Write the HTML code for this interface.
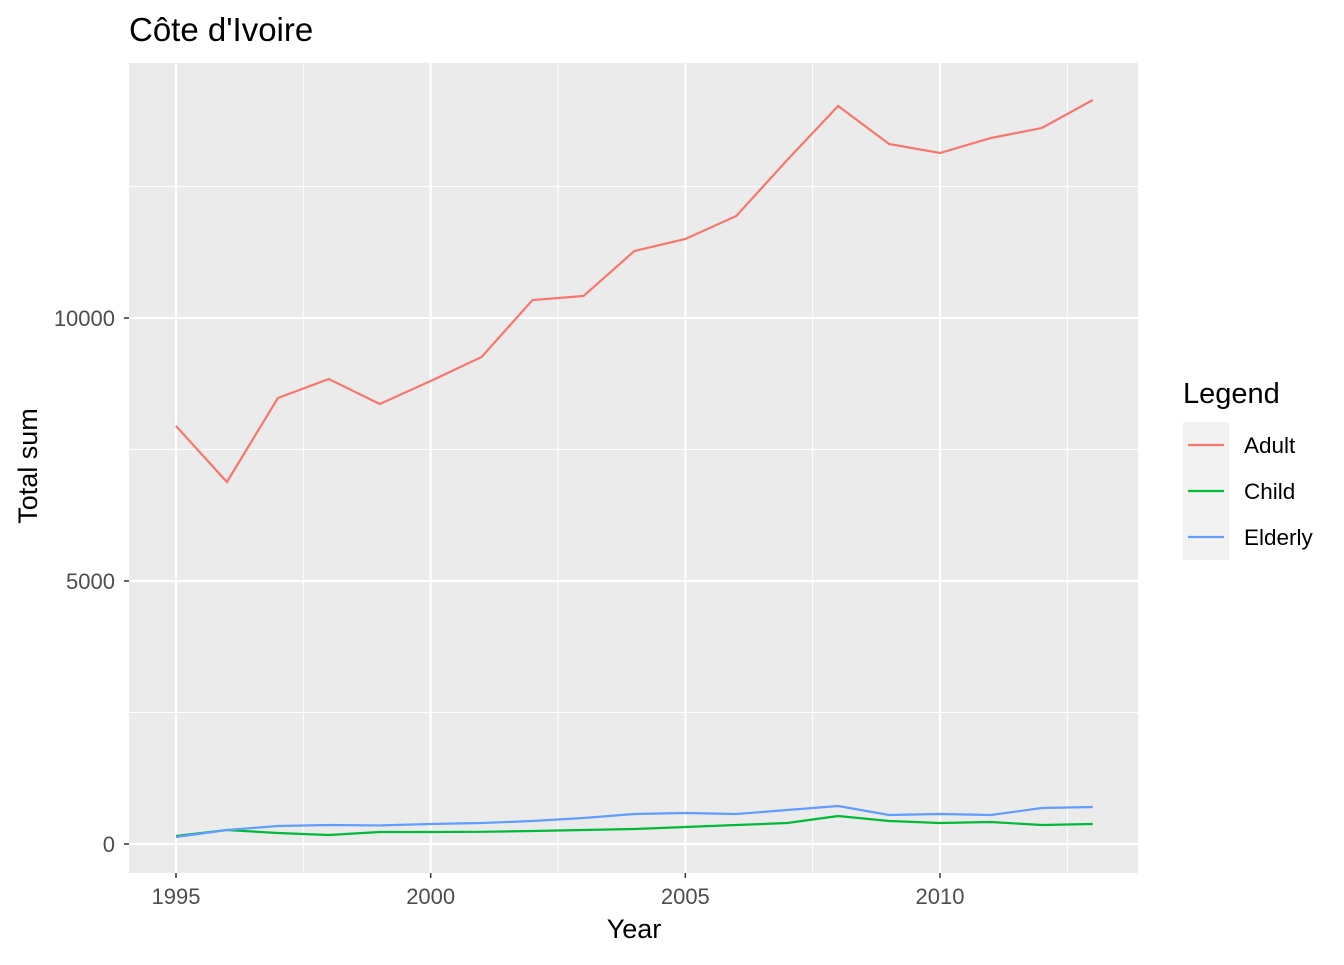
<!DOCTYPE html>
<html><head><meta charset="utf-8"><style>body{margin:0;background:#fff}svg{font-family:"Liberation Sans",sans-serif}</style></head>
<body>
<svg id="c" width="1344" height="960"></svg>
<script>
const years=[1995,1996,1997,1998,1999,2000,2001,2002,2003,2004,2005,2006,2007,2008,2009,2010,2011,2012,2013];
const adult=[7947,6882,8479,8840,8365,8802,9259,10342,10418,11274,11502,11939,13004,14030,13308,13137,13422,13612,14144];
const child=[152,266,209,171,228,228,232,247,266,285,323,361,399,532,437,399,418,361,380];
const elderly=[133,266,342,361,353,380,399,437,494,570,589,570,646,722,551,570,551,684,703];
const xTicks=[1995,2000,2005,2010];
const yTicks=[0,5000,10000];
const series=[["Adult",adult,"#F8766D"],["Child",child,"#00BA38"],["Elderly",elderly,"#619CFF"]];
const L=129,R=1138,T=63,B=873;
const x=v=>176+(v-1995)*(940-176)/15;
const y=v=>844-v*(844-318)/10000;
const svg=document.getElementById('c');const NS='http://www.w3.org/2000/svg';
function el(t,a,p){const e=document.createElementNS(NS,t);for(const k in a)e.setAttribute(k,a[k]);(p||svg).appendChild(e);return e;}
let e=el('rect',{x:L,y:T,width:R-L,height:B-T,fill:'#EBEBEB'});

for(let v=2500;v<15000;v+=5000){e=el('line',{x1:L,x2:R,y1:y(v),y2:y(v),stroke:'#fff','stroke-width':1});}
for(let v=1997.5;v<2014;v+=5){e=el('line',{x1:x(v),x2:x(v),y1:T,y2:B,stroke:'#fff','stroke-width':1});}
yTicks.forEach(v=>{e=el('line',{x1:L,x2:R,y1:y(v),y2:y(v),stroke:'#fff','stroke-width':2});
e=el('line',{x1:L-5,x2:L,y1:y(v),y2:y(v),stroke:'#333','stroke-width':1.5});
e=el('text',{x:L-14,y:y(v)+8,'text-anchor':'end','font-size':22,fill:'#4D4D4D'});e.textContent=v;});
xTicks.forEach(v=>{e=el('line',{x1:x(v),x2:x(v),y1:T,y2:B,stroke:'#fff','stroke-width':2});
e=el('line',{x1:x(v),x2:x(v),y1:B,y2:B+5,stroke:'#333','stroke-width':1.5});
e=el('text',{x:x(v),y:B+31,'text-anchor':'middle','font-size':22,fill:'#4D4D4D'});e.textContent=v;});
series.forEach(([n,d,c])=>{e=el('polyline',{points:d.map((v,i)=>x(years[i])+','+y(v)).join(' '),fill:'none',stroke:c,'stroke-width':2.2});});
e=el('text',{x:129,y:41,'font-size':33,fill:'#000'});e.textContent="Côte d'Ivoire";
e=el('text',{x:634,y:938,'text-anchor':'middle','font-size':27});e.textContent='Year';
e=el('text',{x:37,y:466,'text-anchor':'middle','font-size':27,transform:'rotate(-90 37 466)'});e.textContent='Total sum';
e=el('text',{x:1183,y:403,'font-size':29});e.textContent='Legend';
series.forEach(([n,d,c],i)=>{const yy=445+i*46;
e=el('rect',{x:1183,y:yy-23,width:46,height:46,fill:'#F2F2F2'});
e=el('line',{x1:1188,x2:1224,y1:yy,y2:yy,stroke:c,'stroke-width':2.2});
e=el('text',{x:1244,y:yy+8,'font-size':22.5});e.textContent=n;});
</script>
</body></html>
